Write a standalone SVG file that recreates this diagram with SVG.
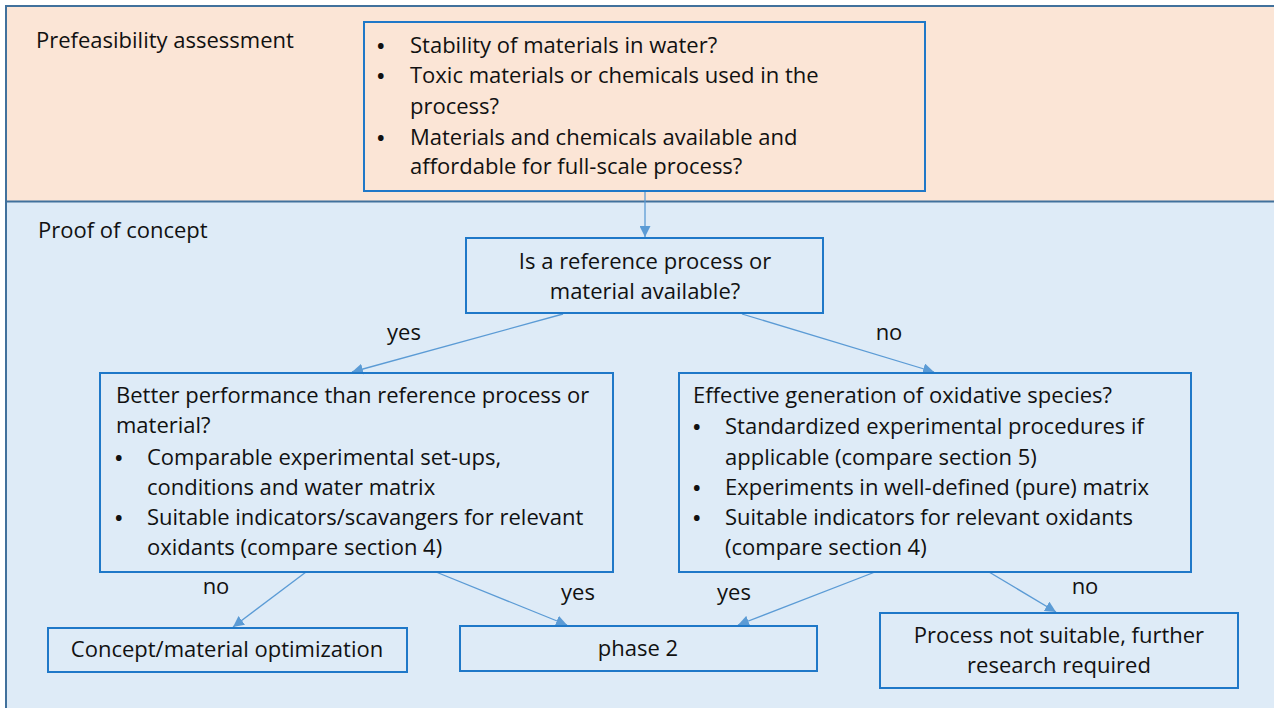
<svg xmlns="http://www.w3.org/2000/svg" width="1274" height="708" viewBox="0 0 1274 708">
<defs>
<style>
text{font-family:"Open Sans","Liberation Sans",sans-serif;font-size:22px;fill:#111}
.c{text-anchor:middle}
.b{font-weight:bold;font-size:20px}
.box{stroke:#1F78C8;stroke-width:2;fill:none}
.conn{stroke:#5B9BD5;stroke-width:1.3;fill:none}
</style>
<marker id="ah" viewBox="0 0 10 10" refX="10" refY="5" markerWidth="11" markerHeight="11" markerUnits="userSpaceOnUse" orient="auto">
<path d="M0,0 L10,5 L0,10 z" fill="#5B9BD5"/>
</marker>
</defs>
<g id="lanes">
<rect x="6" y="6" width="1290" height="196" fill="#FBE5D6"/>
<rect x="6" y="202" width="1290" height="520" fill="#DEEBF7"/>
<rect x="6" y="6" width="1290" height="720" fill="none" stroke="#41719C" stroke-width="2"/>
<line x1="6" y1="201.5" x2="1296" y2="201.5" stroke="#41719C" stroke-width="2"/>
<text x="36" y="48">Prefeasibility assessment</text>
<text x="38" y="238">Proof of concept</text>
</g>
<g id="connectors">
<line class="conn" x1="645" y1="191" x2="645" y2="237" marker-end="url(#ah)"/>
<line class="conn" x1="563" y1="314" x2="352" y2="372" marker-end="url(#ah)"/>
<line class="conn" x1="742" y1="314" x2="934" y2="372" marker-end="url(#ah)"/>
<line class="conn" x1="306" y1="572" x2="233" y2="627" marker-end="url(#ah)"/>
<line class="conn" x1="436" y1="572" x2="567" y2="625" marker-end="url(#ah)"/>
<line class="conn" x1="875" y1="572" x2="738" y2="625" marker-end="url(#ah)"/>
<line class="conn" x1="989" y1="572" x2="1056" y2="612" marker-end="url(#ah)"/>
<text class="c" x="404" y="340">yes</text>
<text class="c" x="889" y="340">no</text>
<text class="c" x="216" y="594">no</text>
<text class="c" x="578" y="600">yes</text>
<text class="c" x="734" y="600">yes</text>
<text class="c" x="1085" y="594">no</text>
</g>
<g id="prefeasibility">
<rect class="box" x="364" y="22" width="561" height="169"/>
<text class="b" x="377" y="53">•</text><text x="410" y="53">Stability of materials in water?</text>
<text class="b" x="377" y="83">•</text><text x="410" y="83">Toxic materials or chemicals used in the</text>
<text x="410" y="114">process?</text>
<text class="b" x="377" y="145">•</text><text x="410" y="145">Materials and chemicals available and</text>
<text x="410" y="174">affordable for full-scale process?</text>
</g>
<g id="reference">
<rect class="box" x="466" y="238" width="357" height="75"/>
<text class="c" x="645" y="269">Is a reference process or</text>
<text class="c" x="645" y="299">material available?</text>
</g>
<g id="better">
<rect class="box" x="100" y="373" width="513" height="199"/>
<text x="116" y="403">Better performance than reference process or</text>
<text x="116" y="433">material?</text>
<text class="b" x="115" y="465">•</text><text x="147" y="465">Comparable experimental set-ups,</text>
<text x="147" y="495">conditions and water matrix</text>
<text class="b" x="115" y="525">•</text><text x="147" y="525">Suitable indicators/scavangers for relevant</text>
<text x="147" y="555">oxidants (compare section 4)</text>
</g>
<g id="effective">
<rect class="box" x="679" y="373" width="512" height="199"/>
<text x="693" y="403">Effective generation of oxidative species?</text>
<text class="b" x="693" y="434">•</text><text x="725" y="434">Standardized experimental procedures if</text>
<text x="725" y="465">applicable (compare section 5)</text>
<text class="b" x="693" y="495">•</text><text x="725" y="495">Experiments in well-defined (pure) matrix</text>
<text class="b" x="693" y="525">•</text><text x="725" y="525">Suitable indicators for relevant oxidants</text>
<text x="725" y="555">(compare section 4)</text>
</g>
<g id="optimization">
<rect class="box" x="48" y="628" width="359" height="44"/>
<text class="c" x="227" y="657">Concept/material optimization</text>
</g>
<g id="phase2">
<rect class="box" x="460" y="626" width="357" height="45"/>
<text class="c" x="638" y="656">phase 2</text>
</g>
<g id="notsuitable">
<rect class="box" x="880" y="613" width="358" height="75"/>
<text class="c" x="1059" y="643">Process not suitable, further</text>
<text class="c" x="1059" y="673">research required</text>
</g>
</svg>
